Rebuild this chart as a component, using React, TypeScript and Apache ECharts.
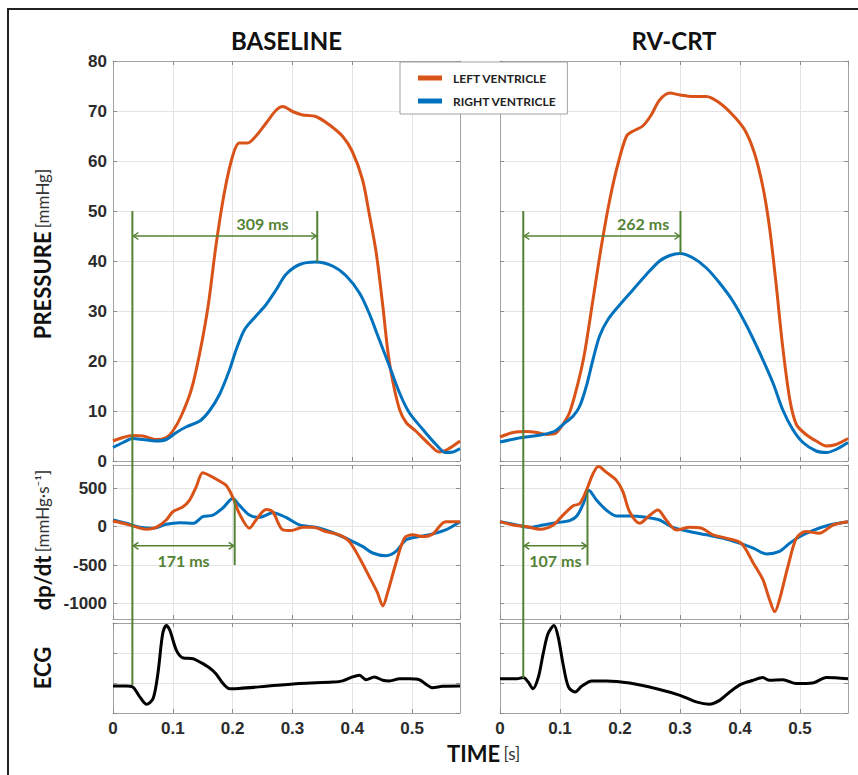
import React, { useEffect, useRef } from 'react';
import * as echarts from 'echarts';

// ---------------- DATA ----------------
const X_MAX = 0.58;
const X_TICK = 0.1;

// Pressure [mmHg] vs time [s]
const BASE_LV_P: [number, number][] = [[0,4.0],[0.017,4.7],[0.032,5.1],[0.05,5.0],[0.072,4.3],[0.089,4.7],[0.1,6.0],[0.114,9],[0.131,14.3],[0.145,21.6],[0.159,31],[0.172,43],[0.186,53.6],[0.2,61],[0.211,63.6],[0.225,63.6],[0.239,65],[0.256,67.6],[0.273,70.2],[0.284,70.9],[0.3,69.9],[0.317,69.2],[0.339,68.9],[0.362,67.2],[0.384,64.9],[0.4,61.9],[0.417,56.3],[0.428,49.6],[0.44,41.6],[0.451,31],[0.459,22.3],[0.467,16.3],[0.479,10.3],[0.49,7.7],[0.506,6],[0.529,3.3],[0.545,1.8],[0.559,2.3],[0.58,4]];
const BASE_RV_P: [number, number][] = [[0,2.7],[0.017,3.7],[0.033,4.5],[0.05,4.3],[0.072,4.0],[0.089,4.3],[0.106,5.7],[0.122,6.8],[0.145,8],[0.161,10],[0.178,13.3],[0.195,18.3],[0.206,22.3],[0.22,26.3],[0.239,29],[0.256,31.3],[0.273,34.3],[0.289,37.3],[0.312,39.3],[0.339,39.8],[0.367,39],[0.39,37],[0.412,33.6],[0.428,29.6],[0.445,24.3],[0.462,19],[0.479,13.6],[0.495,9.7],[0.518,6.3],[0.54,3.3],[0.556,1.7],[0.568,1.8],[0.58,2.5]];
const CRT_LV_P: [number, number][] = [[0,4.8],[0.022,5.7],[0.044,5.9],[0.061,5.7],[0.078,5.3],[0.092,5.5],[0.103,7],[0.116,9.7],[0.13,15.6],[0.141,21.6],[0.155,32.3],[0.169,43],[0.183,52.3],[0.197,59.6],[0.211,65],[0.222,66],[0.238,67],[0.252,69.2],[0.266,72.2],[0.283,73.6],[0.3,73.2],[0.322,72.9],[0.344,72.9],[0.366,71.6],[0.388,69.2],[0.408,66.2],[0.424,61.6],[0.438,54.9],[0.449,46.9],[0.46,35.6],[0.471,23],[0.483,12.3],[0.494,7.3],[0.51,5.3],[0.527,4],[0.544,3],[0.56,3.3],[0.58,4.5]];
const CRT_RV_P: [number, number][] = [[0,3.8],[0.028,4.5],[0.05,4.9],[0.072,5.3],[0.092,6],[0.105,7.3],[0.122,9],[0.133,11],[0.144,15],[0.155,20.3],[0.166,25],[0.18,28.3],[0.2,31.3],[0.222,34.3],[0.244,37.3],[0.266,40],[0.283,41.1],[0.3,41.5],[0.322,40.6],[0.344,38.6],[0.366,35.6],[0.388,32],[0.41,27.3],[0.433,21.6],[0.455,15.6],[0.471,10.3],[0.488,6.3],[0.505,3.7],[0.527,2],[0.544,1.7],[0.56,2.3],[0.58,3.7]];

// dp/dt [mmHg/s] vs time [s]
const BASE_LV_D: [number, number][] = [[0,73],[0.017,43],[0.033,9],[0.056,-34],[0.072,-9],[0.089,86],[0.1,193],[0.117,257],[0.128,343],[0.139,515],[0.15,700],[0.161,665],[0.178,592],[0.189,536],[0.2,386],[0.211,172],[0.228,-21],[0.239,86],[0.256,223],[0.267,193],[0.284,-43],[0.298,-51],[0.317,-9],[0.334,-9],[0.356,-64],[0.378,-107],[0.395,-193],[0.412,-408],[0.428,-644],[0.442,-858],[0.451,-1030],[0.459,-858],[0.473,-472],[0.487,-150],[0.501,-107],[0.518,-129],[0.534,-99],[0.556,64],[0.58,64]];
const BASE_RV_D: [number, number][] = [[0,86],[0.022,43],[0.045,-9],[0.067,-21],[0.089,30],[0.111,51],[0.134,43],[0.15,129],[0.167,150],[0.184,245],[0.2,365],[0.211,279],[0.228,150],[0.245,120],[0.267,180],[0.289,120],[0.312,21],[0.339,-9],[0.367,-77],[0.395,-172],[0.417,-257],[0.434,-343],[0.456,-378],[0.473,-322],[0.49,-172],[0.512,-129],[0.534,-94],[0.556,-43],[0.58,64]];
const CRT_LV_D: [number, number][] = [[0,64],[0.022,21],[0.044,0],[0.067,-34],[0.089,21],[0.105,150],[0.122,270],[0.133,300],[0.144,472],[0.155,686],[0.164,780],[0.177,708],[0.194,600],[0.205,450],[0.216,193],[0.233,43],[0.247,129],[0.263,215],[0.277,86],[0.294,-43],[0.316,-9],[0.336,-21],[0.355,-107],[0.377,-150],[0.402,-215],[0.422,-472],[0.438,-686],[0.449,-944],[0.458,-1107],[0.466,-944],[0.48,-515],[0.494,-150],[0.51,-64],[0.532,-86],[0.555,21],[0.58,64]];
const CRT_RV_D: [number, number][] = [[0,64],[0.028,21],[0.05,-9],[0.072,21],[0.094,51],[0.116,77],[0.128,137],[0.139,300],[0.148,472],[0.161,343],[0.177,215],[0.194,137],[0.216,137],[0.244,120],[0.266,86],[0.288,-9],[0.316,-64],[0.344,-107],[0.371,-150],[0.399,-215],[0.422,-279],[0.444,-356],[0.466,-322],[0.483,-215],[0.5,-129],[0.521,-51],[0.549,21],[0.58,64]];

// ECG (arbitrary units) vs time [s]
const BASE_ECG: [number, number][] = [[0,0.9],[0.022,0.9],[0.033,0.87],[0.045,0.53],[0.056,0.29],[0.067,0.48],[0.075,1.31],[0.083,2.64],[0.089,2.92],[0.095,2.76],[0.106,2.09],[0.117,1.84],[0.134,1.81],[0.145,1.7],[0.161,1.51],[0.172,1.31],[0.184,0.98],[0.195,0.81],[0.211,0.82],[0.256,0.89],[0.312,0.98],[0.367,1.03],[0.384,1.07],[0.4,1.2],[0.412,1.26],[0.423,1.11],[0.437,1.2],[0.451,1.09],[0.462,1.07],[0.479,1.14],[0.495,1.14],[0.512,1.11],[0.523,0.96],[0.534,0.84],[0.551,0.89],[0.58,0.9]];
const CRT_ECG: [number, number][] = [[0,1.14],[0.028,1.14],[0.039,1.18],[0.047,1.03],[0.055,0.81],[0.064,1.2],[0.072,1.98],[0.08,2.64],[0.09,2.92],[0.097,2.53],[0.105,1.64],[0.114,0.87],[0.125,0.7],[0.136,0.89],[0.153,1.07],[0.177,1.07],[0.216,1.0],[0.261,0.81],[0.3,0.59],[0.327,0.37],[0.349,0.29],[0.366,0.42],[0.383,0.7],[0.402,0.96],[0.422,1.09],[0.438,1.18],[0.449,1.09],[0.471,1.11],[0.494,0.98],[0.521,1.0],[0.544,1.18],[0.58,1.14]];

// Annotations
const PANEL_TITLES = ['BASELINE', 'RV-CRT'];
const ONSET_S = [0.0324, 0.0388];
const PRESSURE_DELAY_MS = [309, 262];
const DPDT_DELAY_MS = [171, 107];
const LEGEND_NAMES = ['LEFT VENTRICLE', 'RIGHT VENTRICLE'];

// ---------------- STYLE / LAYOUT ----------------
const LV_COLOR = '#D95319';
const RV_COLOR = '#0072BD';
const GREEN = '#548235';
const COLS = [{ left: 113, width: 347 }, { left: 500, width: 348 }];
const ROWS = [{ top: 61, height: 400 }, { top: 465, height: 154 }, { top: 623, height: 90 }];
const TICK_FONT = { fontFamily: 'Liberation Sans, Arial, sans-serif', fontWeight: 'bold' as const, fontSize: 17, color: '#2b2b2b' };
const AXIS_LINE = { show: true, onZero: false, lineStyle: { color: '#a3a3a3', width: 1 } };
const AXIS_TICK = { show: true, inside: true, length: 4, lineStyle: { color: '#8c8c8c' } };
const SPLIT = { show: true, lineStyle: { color: '#e4e4e4', width: 1 } };

export default function App() {
  const ref = useRef<HTMLDivElement>(null);

  useEffect(() => {
    const el = ref.current!;
    const chart = echarts.init(el, undefined, { renderer: 'svg' });

    const grids: any[] = [];
    const xAxes: any[] = [];
    const yAxes: any[] = [];
    const fmt = (v: number) => String(Math.round(v * 1000) / 1000);
    for (let c = 0; c < 2; c++) {
      for (let r = 0; r < 3; r++) {
        const g = c * 3 + r;
        grids.push({ left: COLS[c].left, width: COLS[c].width, top: ROWS[r].top, height: ROWS[r].height, show: false });
        const xBase = { type: 'value', gridIndex: g, min: 0, max: X_MAX, interval: X_TICK, axisLine: AXIS_LINE, axisTick: AXIS_TICK };
        xAxes.push({ ...xBase, position: 'bottom', splitLine: SPLIT,
          axisLabel: { show: r === 2, showMaxLabel: false, margin: 7, formatter: fmt, ...TICK_FONT } });
        xAxes.push({ ...xBase, position: 'top', splitLine: { show: false }, axisLabel: { show: false } });
        let yRange: any;
        if (r === 0) yRange = { min: 0, max: 80, interval: 10 };
        else if (r === 1) yRange = { min: -1200, max: 800, splitNumber: 4 };
        else yRange = { min: 0, max: 3, interval: 1 };
        const yBase = { type: 'value', gridIndex: g, ...yRange, axisLine: AXIS_LINE, axisTick: AXIS_TICK };
        yAxes.push({ ...yBase, position: 'left', splitLine: SPLIT,
          axisLabel: { show: c === 0 && r !== 2, showMinLabel: r !== 1, showMaxLabel: r !== 1, margin: 6, formatter: fmt, ...TICK_FONT } });
        yAxes.push({ ...yBase, position: 'right', splitLine: { show: false }, axisLabel: { show: false } });
      }
    }

    const line = (name: string, data: [number, number][], g: number, color: string, width = 3) => ({
      type: 'line', name, data, xAxisIndex: g * 2, yAxisIndex: g * 2, showSymbol: false, symbol: 'none',
      smooth: 0.3, color, lineStyle: { color, width }, z: 3,
    });

    const panels = [
      { p: [BASE_LV_P, BASE_RV_P], d: [BASE_LV_D, BASE_RV_D], e: BASE_ECG },
      { p: [CRT_LV_P, CRT_RV_P], d: [CRT_LV_D, CRT_RV_D], e: CRT_ECG },
    ];
    const series: any[] = [];
    panels.forEach((pn, c) => {
      series.push(line(LEGEND_NAMES[0], pn.p[0], c * 3, LV_COLOR));
      series.push(line(LEGEND_NAMES[1], pn.p[1], c * 3, RV_COLOR));
      series.push(line(LEGEND_NAMES[1], pn.d[1], c * 3 + 1, RV_COLOR));
      series.push(line(LEGEND_NAMES[0], pn.d[0], c * 3 + 1, LV_COLOR));
      series.push(line('ECG', pn.e, c * 3 + 2, '#000000'));
    });

    chart.setOption({
      animation: false,
      backgroundColor: '#ffffff',
      grid: grids,
      xAxis: xAxes,
      yAxis: yAxes,
      legend: {
        data: LEGEND_NAMES, orient: 'vertical', left: 400, top: 62,
        padding: [10, 11, 7, 18], itemGap: 11, itemWidth: 24, itemHeight: 5, icon: 'rect',
        backgroundColor: '#ffffff', borderColor: '#a0a0a0', borderWidth: 1, borderRadius: 0,
        textStyle: { fontFamily: 'Lato, sans-serif', fontWeight: 'bold', fontSize: 12, color: '#222', padding: [0, 0, 0, 6] },
        selectedMode: false, z: 10,
      },
      series,
    });

    const px = (g: number, x: number, y: number) =>
      chart.convertToPixel({ xAxisIndex: g * 2, yAxisIndex: g * 2 } as any, [x, y]) as number[];

    const gfx: any[] = [];
    // outer frame
    gfx.push({ type: 'rect', shape: { x: 8, y: 9, width: 900, height: 900 }, style: { fill: 'none', stroke: '#222', lineWidth: 2 }, z: 1, silent: true });

    // titles
    PANEL_TITLES.forEach((t, c) => {
      gfx.push({ type: 'text', x: COLS[c].left + COLS[c].width / 2, y: 40,
        style: { text: t, fontFamily: 'Lato, sans-serif', fontWeight: 'bold', fontSize: 24, fill: '#111', align: 'center', verticalAlign: 'middle', textAlign: 'center', textVerticalAlign: 'middle' } });
    });

    const rich = {
      b: { fontFamily: 'Lato, sans-serif', fontWeight: 'bold', fontSize: 22, fill: '#111' },
      r: { fontFamily: 'Lato, sans-serif', fontSize: 17, fill: '#333' },
    };
    const yName = (text: string, y: number) => ({
      type: 'text', x: 42, y, rotation: Math.PI / 2,
      style: { text, rich, align: 'center', verticalAlign: 'middle', textAlign: 'center', textVerticalAlign: 'middle' },
    });
    gfx.push(yName('{b|PRESSURE} {r|[mmHg]}', 254));
    gfx.push(yName('{b|dp/dt} {r|[mmHg·s⁻¹]}', 540));
    gfx.push(yName('{b|ECG}', 668));
    gfx.push({ type: 'text', x: 447, y: 753,
      style: { text: '{b|TIME} {r|[s]}', rich, align: 'left', verticalAlign: 'middle', textAlign: 'left', textVerticalAlign: 'middle' } });

    // annotations
    const arrow = (x1: number, x2: number, y: number) => {
      gfx.push({ type: 'line', shape: { x1, y1: y, x2, y2: y }, style: { stroke: GREEN, lineWidth: 1.5 }, z: 5 });
      gfx.push({ type: 'polyline', shape: { points: [[x1 + 6, y - 3.5], [x1 + 1, y], [x1 + 6, y + 3.5]] }, style: { stroke: GREEN, lineWidth: 1.5, fill: 'none' }, z: 5 });
      gfx.push({ type: 'polyline', shape: { points: [[x2 - 6, y - 3.5], [x2 - 1, y], [x2 - 6, y + 3.5]] }, style: { stroke: GREEN, lineWidth: 1.5, fill: 'none' }, z: 5 });
    };
    const vline = (x: number, y1: number, y2: number, w = 2) =>
      gfx.push({ type: 'line', shape: { x1: x, y1, x2: x, y2 }, style: { stroke: GREEN, lineWidth: w }, z: 5 });
    const label = (text: string, x: number, y: number) =>
      gfx.push({ type: 'text', x, y, z: 6, style: { text, fontFamily: 'Lato, sans-serif', fontWeight: 'bold', fontSize: 16, fill: GREEN, align: 'center', verticalAlign: 'middle', textAlign: 'center', textVerticalAlign: 'middle' } });

    const pLabelT = [0.25, 0.2385];
    panels.forEach((pn, c) => {
      const t1 = ONSET_S[c];
      const gP = c * 3, gD = c * 3 + 1, gE = c * 3 + 2;
      const rvPeakP = Math.max(...pn.p[1].map((d) => d[1]));
      const rvPeakD = Math.max(...pn.d[1].map((d) => d[1]));
      const tP = t1 + PRESSURE_DELAY_MS[c] / 1000;
      const tD = t1 + DPDT_DELAY_MS[c] / 1000;
      // long onset line
      const a = px(gP, t1, 50);
      const b = px(gE, t1, pn.e[0][1] + 0.03);
      vline(a[0], a[1], b[1], 2);
      // pressure
      const p2a = px(gP, tP, 50), p2b = px(gP, tP, rvPeakP);
      vline(p2a[0], p2a[1], p2b[1], 2);
      const ay = px(gP, 0, 45)[1];
      arrow(a[0], p2a[0], ay);
      const lp = px(gP, pLabelT[c], 47.6);
      label(`${PRESSURE_DELAY_MS[c]} ms`, lp[0], lp[1]);
      // dp/dt
      const d2a = px(gD, tD, rvPeakD), d2b = px(gD, tD, -500);
      vline(d2a[0], d2a[1], d2b[1], 2);
      const dy = px(gD, 0, -250)[1];
      arrow(a[0], d2a[0], dy);
      const ld = px(gD, (t1 + tD) / 2, -440);
      label(`${DPDT_DELAY_MS[c]} ms`, ld[0], ld[1]);
    });

    chart.setOption({ graphic: gfx });

    return () => chart.dispose();
  }, []);

  return <div ref={ref} style={{ position: 'absolute', left: 0, top: 0, width: 858, height: 775, background: '#fff' }} />;
}
